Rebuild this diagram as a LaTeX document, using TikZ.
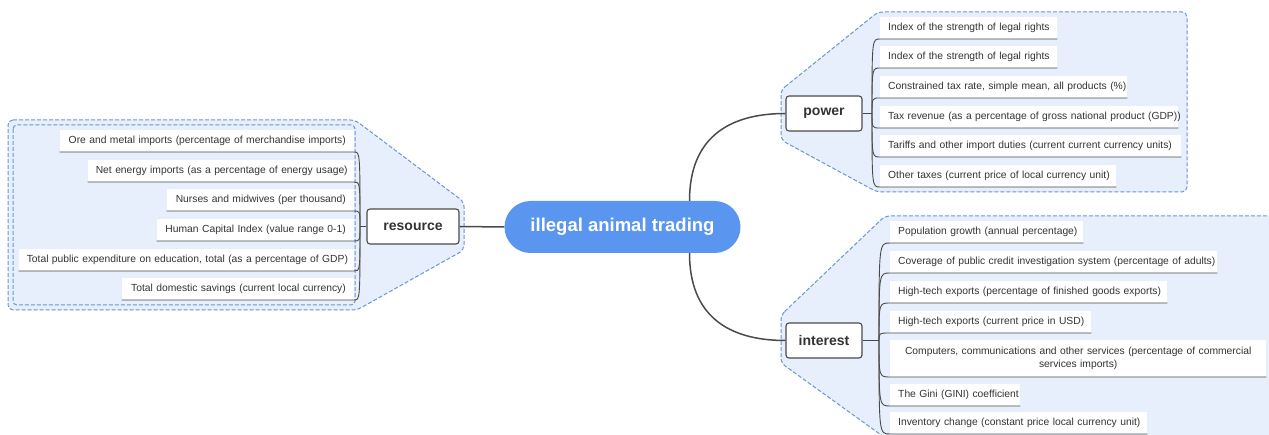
\documentclass[tikz,border=0pt]{standalone}
\usepackage{fontspec}
\setmainfont{Liberation Sans}
\usetikzlibrary{calc}
\definecolor{grpfill}{HTML}{E8EFFC}
\definecolor{grpline}{HTML}{6A95D8}
\definecolor{centerc}{HTML}{5A95F0}
\definecolor{linkc}{HTML}{4A4A4A}
\definecolor{txtc}{HTML}{333333}
\newcommand{\nb}[1]{\mbox{#1}}
\begin{document}
\begin{tikzpicture}[x=1pt,y=-1pt,
  grp/.style={draw=grpline, dash pattern=on 4pt off 2pt, fill=grpfill, line width=1pt, rounded corners=5pt},
  grpin/.style={draw=grpline, dash pattern=on 4pt off 2pt, line width=1pt, rounded corners=4pt},
  topic/.style={draw=linkc, fill=white, rounded corners=3pt, line width=1.1pt, text=txtc,
    font=\fontsize{14}{16}\selectfont\bfseries, minimum height=35pt, inner xsep=0pt},
  centre/.style={fill=centerc, rounded corners=26pt, minimum width=236pt, minimum height=52pt,
    text=white, font=\fontsize{18.5}{20}\selectfont\bfseries},
  item/.style={fill=white, inner xsep=8pt, inner ysep=0pt, minimum height=22pt, text=txtc,
    font=\fontsize{10.3}{13}\selectfont, anchor=south west, align=left},
  ritem/.style={item, anchor=south east, align=right},
  link/.style={draw=linkc, line width=0.9pt},
  mainlink/.style={draw=linkc, line width=1.5pt}
]
\useasboundingbox (0,0) rectangle (1269,435);
\clip (0,0) rectangle (1269,435);
\fill[white] (0,0) rectangle (1269,435);

% group backgrounds
\path[grp] (8,120) -- (355,120) -- (464,202) -- (464,250) -- (357,310) -- (8,310) -- cycle;
\path[grpin] (13,125) rectangle (355,305);
\path[grp] (781,90) -- (878,12) -- (1187,12) -- (1187,192) -- (877,192) -- (781,140) -- cycle;
\path[grp] (781,315) -- (885,216) -- (1290,216) -- (1290,450) -- (902,450) -- (781,363) -- cycle;

% main nodes
\node[centre] (c) at (622.5,227) {illegal animal trading};
\node[topic, minimum width=92pt] (res) at (413,226.5) {resource};
\node[topic, minimum width=76pt] (pow) at (824,113.5) {power};
\node[topic, minimum width=76pt] (int) at (824,340.5) {interest};

\draw[mainlink] (c.west) -- (res.east);
\draw[mainlink] ($(c.north)+(67,0)$) .. controls +(0,-62) and +(-58,0) .. (pow.west);
\draw[mainlink] ($(c.south)+(67,0)$) .. controls +(0,62) and +(-58,0) .. (int.west);

% junctions
\coordinate (rj) at (360,226.5);
\coordinate (pj) at (872,113.5);
\coordinate (ij) at (879,340.5);
\draw[link] (res.west) -- (rj);
\draw[link] (pow.east) -- (pj);
\draw[link] (int.east) -- (ij);

% resource items
\node[ritem, text width=278pt] (r1) at (354,152) {\nb{Ore and metal imports (percentage of merchandise imports)}};
\node[ritem, text width=250pt] (r2) at (354,182) {\nb{Net energy imports (as a percentage of energy usage)}};
\node[ritem, text width=171pt] (r3) at (354,211) {\nb{Nurses and midwives (per thousand)}};
\node[ritem, text width=181pt] (r4) at (354,241) {\nb{Human Capital Index (value range 0-1)}};
\node[ritem, text width=319pt] (r5) at (354,271) {\nb{Total public expenditure on education, total (as a percentage of GDP)}};
\node[ritem, text width=216pt] (r6) at (354,300) {\nb{Total domestic savings (current local currency)}};
\foreach \n/\y in {r1/152,r2/182,r3/211,r4/241,r5/271,r6/300}
  \draw[link] (rj) .. controls (360,\y) .. (\n.south east) -- (\n.south west);

% power items
\node[item, text width=161pt] (p1) at (880,39) {\nb{Index of the strength of legal rights}};
\node[item, text width=161pt] (p2) at (880,68) {\nb{Index of the strength of legal rights}};
\node[item, text width=231pt] (p3) at (880,98) {\nb{Constrained tax rate, simple mean, all products (\%)}};
\node[item, text width=282pt] (p4) at (880,128) {\nb{Tax revenue (as a percentage of gross national product (GDP))}};
\node[item, text width=285pt] (p5) at (880,157) {\nb{Tariffs and other import duties (current current currency units)}};
\node[item, text width=220pt] (p6) at (880,187) {\nb{Other taxes (current price of local currency unit)}};
\foreach \n/\y in {p1/39,p2/68,p3/98,p4/128,p5/157,p6/187}
  \draw[link] (pj) .. controls (872,\y) .. (\n.south west) -- (\n.south east);

% interest items
\node[item, text width=177pt] (i1) at (890,243) {\nb{Population growth (annual percentage)}};
\node[item, text width=311pt] (i2) at (890,273) {\nb{Coverage of public credit investigation system (percentage of adults)}};
\node[item, text width=261pt] (i3) at (890,303) {\nb{High-tech exports (percentage of finished goods exports)}};
\node[item, text width=185pt] (i4) at (890,333) {\nb{High-tech exports (current price in USD)}};
\node[item, text width=360pt, align=center, minimum height=37pt] (i5) at (890,377) {\nb{Computers, communications and other services (percentage of commercial}\\services imports)};
\node[item, text width=114pt] (i6) at (890,406) {\nb{The Gini (GINI) coefficient}};
\node[item, text width=241pt] (i7) at (890,434) {\nb{Inventory change (constant price local currency unit)}};
\foreach \n/\y in {i1/243,i2/273,i3/303,i4/333,i5/377,i6/406,i7/434}
  \draw[link] (ij) .. controls (879,\y) .. (\n.south west) -- (\n.south east);
\end{tikzpicture}
\end{document}
